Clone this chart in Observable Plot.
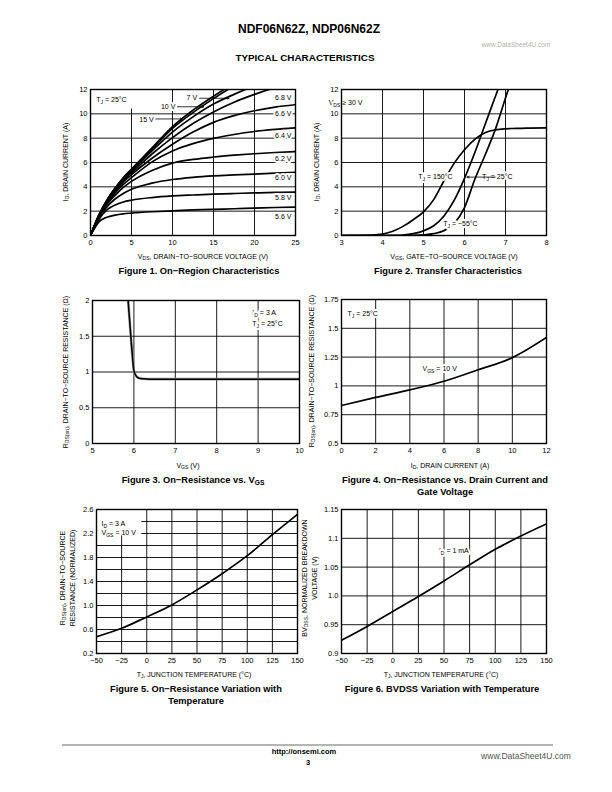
<!DOCTYPE html>
<html><head><meta charset="utf-8">
<script src="https://cdn.jsdelivr.net/npm/d3@7"></script>
<script src="https://cdn.jsdelivr.net/npm/@observablehq/plot@0.6"></script>
<style>
body{margin:0;background:#fff;}
#page{position:relative;width:612px;height:792px;font-family:"Liberation Sans",Arial,Helvetica,sans-serif;color:#000;overflow:hidden;background:#fff}
.t{position:absolute;white-space:nowrap;transform:translate(-50%,-50%);line-height:1;text-align:center}
.r{transform:translate(-50%,-50%) rotate(-90deg)}
.cap{font-weight:bold;font-size:9.3px}
.ax{font-size:7px}
sub{font-size:72%;vertical-align:-0.3em;line-height:0}
</style></head>
<body><div id="page"></div>
<script>
// ---------- DATA ----------
// Figure 1: On-Region characteristics
const fig1Vds = [0,0.5,1,2,3,4,5,7.5,10,12.5,15,17.5,20,22.5,25];
const fig1Series = ["5.6 V","5.8 V","6.0 V","6.2 V","6.4 V","6.6 V","6.8 V","7 V","10 V","15 V"];
const id56 = [0,0.6,1.1,1.5,1.68,1.78,1.84,1.95,2.03,2.1,2.15,2.2,2.25,2.3,2.33];
const id58 = [0,0.7,1.3,2.1,2.5,2.75,2.9,3.12,3.25,3.33,3.4,3.45,3.5,3.54,3.57];
const id60 = [0,0.75,1.4,2.35,3.0,3.45,3.8,4.3,4.6,4.78,4.9,4.98,5.05,5.12,5.2];
const id62 = [0,0.78,1.5,2.55,3.3,3.95,4.45,5.35,5.95,6.25,6.45,6.6,6.72,6.82,6.9];
const id64 = [0,0.8,1.55,2.65,3.5,4.2,4.75,6.05,6.95,7.55,7.98,8.3,8.55,8.72,8.85];
const id66 = [0,0.82,1.6,2.75,3.65,4.4,5.0,6.35,7.5,8.5,9.3,9.85,10.25,10.55,10.75];
const id68 = [0,0.83,1.6,2.8,3.75,4.55,5.15,6.7,8.05,9.2,10.15,10.95,11.6,12.15,12.6];
const id7  = [0,0.84,1.62,2.85,3.82,4.65,5.3,6.95,8.5,9.75,10.8,11.6,12.3,12.9,13.4];
const id10 = [0,0.85,1.65,2.9,3.88,4.72,5.4,7.1,8.8,10.1,11.25,12.3,13.2,14,14.6];
const id15 = [0,0.85,1.65,2.9,3.9,4.75,5.45,7.2,8.95,10.3,11.45,12.5,13.4,14.2,14.8];
const fig1Values = [id56,id58,id60,id62,id64,id66,id68,id7,id10,id15];
const fig1XTicks = [0,5,10,15,20,25];
const fig1XLabels = ["0","5","10","15","20","25"];
const fig1YTicks = [0,2,4,6,8,10,12];
const fig1YLabels = ["0","2","4","6","8","10","12"];
// annotations (data coordinates)
const fig1RightLabels = [
  {x:24.5,y:11.3,t:"6.8 V"},{x:24.5,y:10.0,t:"6.6 V"},{x:24.5,y:8.2,t:"6.4 V"},
  {x:24.5,y:6.3,t:"6.2 V"},{x:24.5,y:4.74,t:"6.0 V"},{x:24.5,y:3.1,t:"5.8 V"},{x:24.5,y:1.56,t:"5.6 V"}];
const fig1LeaderLabels = [{x:13.0,y:11.3,t:"7 V"},{x:10.35,y:10.6,t:"10 V"},{x:7.7,y:9.55,t:"15 V"}];
const fig1Leaders = [{x1:13.3,y1:11.28,x2:16.9,y2:11.28},{x1:10.6,y1:10.58,x2:13.8,y2:10.58},{x1:7.95,y1:9.58,x2:11.2,y2:9.58}];
const fig1Box = [{x1:0,x2:5.15,y1:10.4,y2:12}];
const fig1Note = [{x:0.7,y:11.15,t:"T{J} = 25°C"}];

// Figure 2: Transfer characteristics
const fig2Vgs = [3,3.5,4,4.25,4.5,4.75,5,5.25,5.5,5.75,6,6.25,6.5,6.75,7,7.25,7.5,8];
const fig2Series = ["150","25","-55"];
const id150 = [0,0.01,0.12,0.35,0.75,1.3,1.95,2.95,4.5,5.95,7.05,7.9,8.45,8.68,8.77,8.8,8.82,8.85];
const id25c = [0,0,0,0.01,0.04,0.15,0.38,0.8,1.6,2.9,4.7,6.8,9.1,11.4,13.6,15.6,17.6,21];
const idm55 = [0,0,0,0,0,0.01,0.05,0.15,0.4,1.0,2.3,4.6,6.6,8.7,11.3,13.8,16,20];
const fig2Values = [id150,id25c,idm55];
const fig2XTicks = [3,4,5,6,7,8];
const fig2XLabels = ["3","4","5","6","7","8"];
const fig2YTicks = [0,2,4,6,8,10,12];
const fig2YLabels = ["0","2","4","6","8","10","12"];
const fig2Notes = [
  {x:3.1,y:10.87,t:"V{DS} ≥ 30 V",a:"start"},
  {x:5.29,y:4.8,t:"T{J} = 150°C",a:"end"},
  {x:6.8,y:4.8,t:"T{J} = 25°C",a:"start"},
  {x:5.9,y:0.95,t:"T{J} = −55°C",a:"start"}];
const fig2Leaders = [{x1:6.75,y1:4.8,x2:6.06,y2:4.8}];

// Figure 3: On-resistance vs VGS
const fig3Vgs = [5.86,5.9,5.95,6.0,6.05,6.1,6.2,6.4,6.6,7,8,9,10];
const fig3R   = [2.0,1.7,1.32,1.02,0.95,0.92,0.905,0.9,0.9,0.9,0.9,0.9,0.9];
const fig3XTicks = [5,6,7,8,9,10];
const fig3XLabels = ["5","6","7","8","9","10"];
const fig3YTicks = [0,0.5,1,1.5,2];
const fig3YLabels = ["0","0.5","1","1.5","2"];
const fig3Notes = [{x:8.86,y:1.835,t:"I{D} = 3 A"},{x:8.86,y:1.675,t:"T{J} = 25°C"}];

// Figure 4: On-resistance vs drain current
const fig4Id = [0,2,4,6,8,10,12];
const fig4R  = [0.83,0.9,0.965,1.04,1.14,1.245,1.42];
const fig4XTicks = [0,2,4,6,8,10,12];
const fig4XLabels = ["0","2","4","6","8","10","12"];
const fig4YTicks = [0.5,0.75,1,1.25,1.5,1.75];
const fig4YLabels = ["0.5","0.75","1","1.25","1.5","1.75"];
const fig4Notes = [{x:0.35,y:1.626,t:"T{J} = 25°C"},{x:4.74,y:1.148,t:"V{GS} = 10 V"}];

// Figure 5: normalized on-resistance vs temperature
const fig5T = [-50,-25,0,25,50,75,100,125,150];
const fig5R = [0.48,0.62,0.81,1.01,1.26,1.53,1.83,2.18,2.52];
const fig5XTicks = [-50,-25,0,25,50,75,100,125,150];
const fig5XLabels = ["−50","−25","0","25","50","75","100","125","150"];
const fig5YTicks = [0.2,0.6,1.0,1.4,1.8,2.2,2.6];
const fig5YLabels = ["0.2","0.6","1.0","1.4","1.8","2.2","2.6"];
const fig5YGrid = [0.2,0.4,0.6,0.8,1.0,1.2,1.4,1.6,1.8,2.0,2.2,2.4,2.6];
const fig5Box = [{x1:-50,x2:-5,y1:2.16,y2:2.6}];
const fig5Notes = [{x:-45,y:2.37,t:"I{D} = 3 A"},{x:-45,y:2.21,t:"V{GS} = 10 V"}];

// Figure 6: BVDSS vs temperature
const fig6T  = [-50,-25,0,25,50,75,100,125,150];
const fig6BV = [0.923,0.947,0.973,0.999,1.026,1.054,1.081,1.104,1.125];
const fig6XTicks = [-50,-25,0,25,50,75,100,125,150];
const fig6XLabels = ["−50","−25","0","25","50","75","100","125","150"];
const fig6YTicks = [0.9,0.95,1.0,1.05,1.1,1.15];
const fig6YLabels = ["0.9","0.95","1.0","1.05","1.1","1.15"];
const fig6Notes = [{x:45,y:1.078,t:"I{D} = 1 mA"}];

// ---------- RENDERING ----------
const FONT = '"Liberation Sans", Arial, Helvetica, sans-serif';
const page = document.getElementById("page");
const NS = "http://www.w3.org/2000/svg";

function subify(svg) {
  svg.querySelectorAll("text, tspan").forEach(el => {
    if (![...el.childNodes].every(n => n.nodeType === 3)) return;
    const s = el.textContent;
    if (!s.includes("{")) return;
    el.textContent = "";
    const parts = s.split(/\{([^}]*)\}/);
    let shifted = false;
    parts.forEach((p, i) => {
      if (i % 2 === 1) {
        const t = document.createElementNS(NS, "tspan");
        t.setAttribute("dy", "2"); t.setAttribute("style", "font-size:72%");
        t.textContent = p; el.appendChild(t); shifted = true;
      } else if (p) {
        if (shifted) {
          const t = document.createElementNS(NS, "tspan");
          t.setAttribute("dy", "-2"); t.textContent = p; el.appendChild(t); shifted = false;
        } else el.appendChild(document.createTextNode(p));
      }
    });
  });
}

function lookup(ticks, labels) { const m = new Map(ticks.map((t, i) => [t, labels[i]])); return d => m.get(d) ?? ""; }

function chart({frame, xDomain, yDomain, xTicks, xLabels, yTicks, yLabels, xGrid, yGrid, marks}) {
  const [fx0, fx1, fy0, fy1] = frame;
  const ml = 28, mr = 10, mt = 6, mb = 15;
  const svg = Plot.plot({
    width: fx1 - fx0 + ml + mr, height: fy1 - fy0 + mt + mb,
    marginLeft: ml, marginRight: mr, marginTop: mt, marginBottom: mb,
    x: {domain: xDomain, label: null}, y: {domain: yDomain, label: null},
    style: {fontFamily: FONT, fontSize: "7.5px", background: "transparent", color: "#000", overflow: "visible"},
    marks: [
      Plot.gridX(xGrid || xTicks, {stroke: "#000", strokeOpacity: 1, strokeWidth: 0.9}),
      Plot.gridY(yGrid || yTicks, {stroke: "#000", strokeOpacity: 1, strokeWidth: 0.9}),
      ...marks,
      Plot.frame({stroke: "#000", strokeWidth: 1.4}),
      Plot.axisX(xTicks, {tickSize: 0, tickPadding: 4, tickFormat: lookup(xTicks, xLabels), label: null, fontSize: 7.5}),
      Plot.axisY(yTicks, {tickSize: 0, tickPadding: 3, tickFormat: lookup(yTicks, yLabels), label: null, fontSize: 7.5})
    ]
  });
  subify(svg);
  svg.style.position = "absolute";
  svg.style.left = (fx0 - ml) + "px";
  svg.style.top = (fy0 - mt) + "px";
  page.appendChild(svg);
}

const lineOpts = {stroke: "#000", strokeWidth: 1.7, curve: "monotone-x", clip: true};
const noteOpts = {fontSize: 7, fill: "#000", stroke: "white", strokeWidth: 4};

// Figure 1
const fig1Data = fig1Series.flatMap((s, k) => fig1Vds.map((v, i) => ({vgs: s, vds: v, id: fig1Values[k][i]})));
chart({frame: [90, 295, 89, 235], xDomain: [0, 25], yDomain: [0, 12],
  xTicks: fig1XTicks, xLabels: fig1XLabels, yTicks: fig1YTicks, yLabels: fig1YLabels,
  marks: [
    Plot.rect(fig1Box, {x1: "x1", x2: "x2", y1: "y1", y2: "y2", fill: "white"}),
    Plot.line(fig1Data, {x: "vds", y: "id", z: "vgs", ...lineOpts}),
    Plot.arrow(fig1Leaders, {x1: "x1", y1: "y1", x2: "x2", y2: "y2", stroke: "#000", strokeWidth: 0.8, headLength: 4, headAngle: 45}),
    Plot.text(fig1RightLabels, {x: "x", y: "y", text: "t", textAnchor: "end", ...noteOpts}),
    Plot.text(fig1LeaderLabels, {x: "x", y: "y", text: "t", textAnchor: "end", ...noteOpts}),
    Plot.text(fig1Note, {x: "x", y: "y", text: "t", textAnchor: "start", fontSize: 7, fill: "#000"})
  ]});

// Figure 2
const fig2Data = fig2Series.flatMap((s, k) => fig2Vgs.map((v, i) => ({tj: s, vgs: v, id: fig2Values[k][i]})));
chart({frame: [341, 546, 89, 235], xDomain: [3, 8], yDomain: [0, 12],
  xTicks: fig2XTicks, xLabels: fig2XLabels, yTicks: fig2YTicks, yLabels: fig2YLabels,
  marks: [
    Plot.line(fig2Data, {x: "vgs", y: "id", z: "tj", ...lineOpts}),
    Plot.text(fig2Notes, {x: "x", y: "y", text: "t", textAnchor: "a", ...noteOpts}),
    Plot.arrow(fig2Leaders, {x1: "x1", y1: "y1", x2: "x2", y2: "y2", stroke: "#000", strokeWidth: 0.8, headLength: 4, headAngle: 45})
  ]});

// Figure 3
const fig3Data = fig3Vgs.map((v, i) => ({vgs: v, r: fig3R[i]}));
chart({frame: [92, 299, 300, 443], xDomain: [5, 10], yDomain: [0, 2],
  xTicks: fig3XTicks, xLabels: fig3XLabels, yTicks: fig3YTicks, yLabels: fig3YLabels,
  marks: [
    Plot.line(fig3Data, {x: "vgs", y: "r", ...lineOpts, stroke: "#999", strokeWidth: 2.6}),
    Plot.line(fig3Data, {x: "vgs", y: "r", ...lineOpts, strokeWidth: 1.5}),
    Plot.text(fig3Notes, {x: "x", y: "y", text: "t", textAnchor: "start", ...noteOpts})
  ]});

// Figure 4
const fig4Data = fig4Id.map((v, i) => ({id: v, r: fig4R[i]}));
chart({frame: [341, 546, 299, 443], xDomain: [0, 12], yDomain: [0.5, 1.75],
  xTicks: fig4XTicks, xLabels: fig4XLabels, yTicks: fig4YTicks, yLabels: fig4YLabels,
  marks: [
    Plot.line(fig4Data, {x: "id", y: "r", ...lineOpts}),
    Plot.text(fig4Notes, {x: "x", y: "y", text: "t", textAnchor: "start", ...noteOpts})
  ]});

// Figure 5
const fig5Data = fig5T.map((v, i) => ({t: v, r: fig5R[i]}));
chart({frame: [96, 297, 509, 653], xDomain: [-50, 150], yDomain: [0.2, 2.6],
  xTicks: fig5XTicks, xLabels: fig5XLabels, yTicks: fig5YTicks, yLabels: fig5YLabels, yGrid: fig5YGrid,
  marks: [
    Plot.rect(fig5Box, {x1: "x1", x2: "x2", y1: "y1", y2: "y2", fill: "white"}),
    Plot.line(fig5Data, {x: "t", y: "r", ...lineOpts}),
    Plot.text(fig5Notes, {x: "x", y: "y", text: "t", textAnchor: "start", fontSize: 7, fill: "#000"})
  ]});

// Figure 6
const fig6Data = fig6T.map((v, i) => ({t: v, bv: fig6BV[i]}));
chart({frame: [341, 546, 509, 653], xDomain: [-50, 150], yDomain: [0.9, 1.15],
  xTicks: fig6XTicks, xLabels: fig6XLabels, yTicks: fig6YTicks, yLabels: fig6YLabels,
  marks: [
    Plot.line(fig6Data, {x: "t", y: "bv", ...lineOpts}),
    Plot.text(fig6Notes, {x: "x", y: "y", text: "t", textAnchor: "start", ...noteOpts})
  ]});

// ---------- TEXT ----------
const texts = [
  {x: 309, y: 29, h: "NDF06N62Z, NDP06N62Z", s: "font-weight:bold;font-size:12px"},
  {x: 516, y: 45, h: "www.DataSheet4U.com", s: "font-size:6.5px;color:#b0b0b0"},
  {x: 305, y: 57.5, h: "TYPICAL CHARACTERISTICS", s: "font-weight:bold;font-size:9.9px"},
  {x: 203, y: 256, h: "V<sub>DS</sub>, DRAIN−TO−SOURCE VOLTAGE (V)", c: "ax"},
  {x: 199, y: 272, h: "Figure 1. On−Region Characteristics", c: "cap"},
  {x: 454, y: 256, h: "V<sub>GS</sub>, GATE−TO−SOURCE VOLTAGE (V)", c: "ax"},
  {x: 448, y: 272, h: "Figure 2. Transfer Characteristics", c: "cap"},
  {x: 188, y: 465, h: "V<sub>GS</sub> (V)", c: "ax"},
  {x: 193, y: 481, h: "Figure 3. On−Resistance vs. V<sub>GS</sub>", c: "cap"},
  {x: 450, y: 465, h: "I<sub>D</sub>, DRAIN CURRENT (A)", c: "ax"},
  {x: 445, y: 481, h: "Figure 4. On−Resistance vs. Drain Current and", c: "cap"},
  {x: 445, y: 493, h: "Gate Voltage", c: "cap"},
  {x: 194, y: 674, h: "T<sub>J</sub>, JUNCTION TEMPERATURE (°C)", c: "ax"},
  {x: 196, y: 690, h: "Figure 5. On−Resistance Variation with", c: "cap"},
  {x: 196, y: 702, h: "Temperature", c: "cap"},
  {x: 441, y: 674, h: "T<sub>J</sub>, JUNCTION TEMPERATURE (°C)", c: "ax"},
  {x: 442, y: 690, h: "Figure 6. BVDSS Variation with Temperature", c: "cap"},
  {x: 65, y: 162, h: "I<sub>D</sub>, DRAIN CURRENT (A)", c: "ax r"},
  {x: 316, y: 162, h: "I<sub>D</sub>, DRAIN CURRENT (A)", c: "ax r"},
  {x: 65, y: 372, h: "R<sub>DS(on)</sub>, DRAIN−TO−SOURCE RESISTANCE (Ω)", c: "ax r"},
  {x: 311, y: 371, h: "R<sub>DS(on)</sub>, DRAIN−TO−SOURCE RESISTANCE (Ω)", c: "ax r"},
  {x: 67, y: 578, h: "R<sub>DS(on)</sub>, DRAIN−TO−SOURCE<br>RESISTANCE (NORMALIZED)", c: "ax r", s: "line-height:9.5px"},
  {x: 309, y: 578, h: "BV<sub>DSS</sub>, NORMALIZED BREAKDOWN<br>VOLTAGE (V)", c: "ax r", s: "line-height:9.5px"},
  {x: 304, y: 752, h: "http://onsemi.com", s: "font-weight:bold;font-size:7.5px"},
  {x: 308, y: 763, h: "3", s: "font-weight:bold;font-size:7.5px"},
  {x: 526, y: 756, h: "www.DataSheet4U.com", s: "font-size:8.5px;color:#555"}
];
for (const t of texts) {
  const d = document.createElement("div");
  d.className = "t " + (t.c || "");
  d.style.left = t.x + "px"; d.style.top = t.y + "px";
  if (t.s) d.style.cssText += t.s;
  d.innerHTML = t.h;
  page.appendChild(d);
}
const rule = document.createElement("div");
rule.style.cssText = "position:absolute;left:62px;top:744px;width:491px;height:2px;background:#b4b4b4";
page.appendChild(rule);
</script></body></html>
